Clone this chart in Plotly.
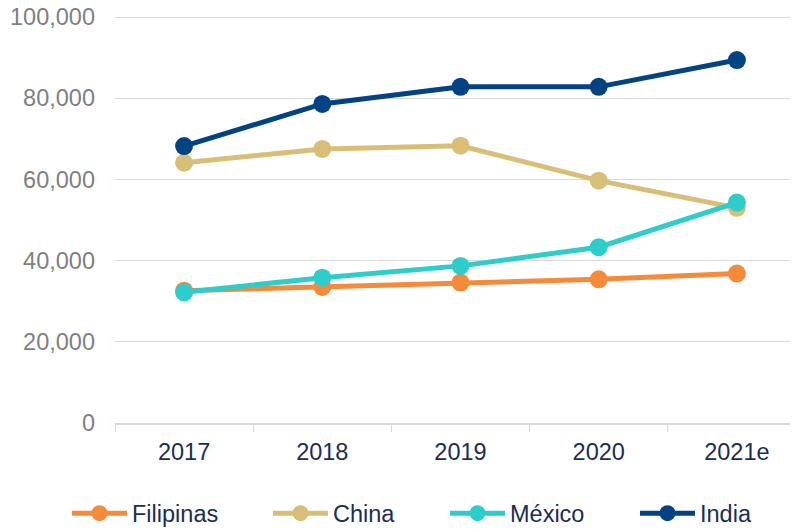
import plotly.graph_objects as go

years = ["2017", "2018", "2019", "2020", "2021e"]
filipinas = [32600, 33500, 34600, 35400, 36800]
china = [64100, 67500, 68300, 59700, 53000]
mexico = [32200, 35800, 38700, 43300, 54300]
india = [68200, 78600, 82800, 82800, 89400]
y_ticks = [0, 20000, 40000, 60000, 80000, 100000]

series = [
    ("Filipinas", filipinas, "#F58A3A"),
    ("China", china, "#D8BE76"),
    ("México", mexico, "#2ECDCB"),
    ("India", india, "#034384"),
]
legend_ids = ["legend", "legend2", "legend3", "legend4"]
legend_x = [59, 260, 437, 627]

fig = go.Figure()
for (name, vals, color), lid in zip(series, legend_ids):
    fig.add_trace(go.Scatter(
        x=years, y=vals, name=name, mode="lines+markers",
        line=dict(color=color, width=5),
        marker=dict(color=color, size=18),
        legend=lid, cliponaxis=False,
    ))

layout_legends = {}
for lid, lx in zip(legend_ids, legend_x):
    layout_legends[lid] = dict(
        orientation="h", xref="container", yref="container",
        x=lx / 798, y=0.003, xanchor="left", yanchor="bottom",
        itemwidth=55, font=dict(size=23.5, color="#1A2E52"),
        bgcolor="rgba(0,0,0,0)",
    )

fig.update_layout(
    width=798, height=529,
    margin=dict(l=107, r=0, t=8, b=114),
    paper_bgcolor="white", plot_bgcolor="white",
    font=dict(family="Liberation Sans, Arial, sans-serif", size=23.5, color="#1A2E52"),
    showlegend=True,
    xaxis=dict(
        type="category", range=[-0.5, 4.5], automargin=False,
        showgrid=False, showline=True, linecolor="#D9D9D9", linewidth=1.5,
        ticks="outside", ticklen=7, tickcolor="#D9D9D9", tickson="boundaries",
        tickfont=dict(size=23.5, color="#1A2E52"), ticklabelstandoff=7,
        zeroline=False,
    ),
    yaxis=dict(
        range=[0, 100250], tickvals=y_ticks, tickformat=",", automargin=False,
        showgrid=True, gridcolor="#D9D9D9", gridwidth=1,
        showline=False, zeroline=False, ticklabeloverflow="allow",
        tickfont=dict(size=23.5, color="#7F7F7F"), ticklabelstandoff=19,
    ),
    **layout_legends,
)

fig.write_html("out.html")
